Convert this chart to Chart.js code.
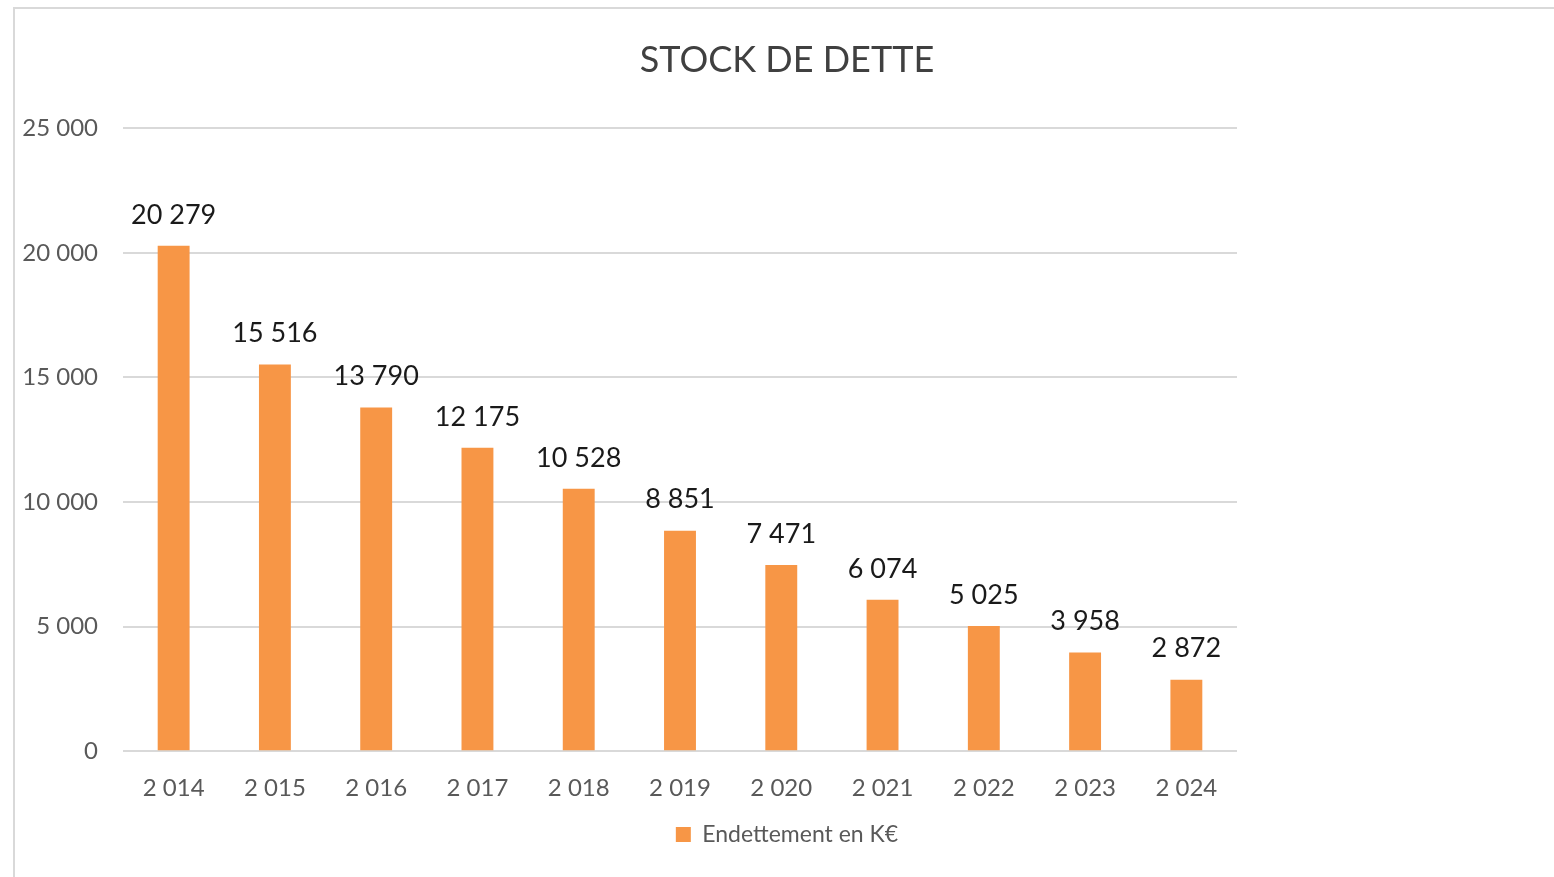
<!DOCTYPE html>
<html lang="fr">
<head>
  <meta charset="UTF-8">
  <title>Stock de dette</title>
  <script src="https://cdn.jsdelivr.net/npm/chart.js"></script>
  <style>
    html, body { margin: 0; padding: 0; background: #fff; overflow: hidden; }
    .frame {
      position: absolute; left: 13px; top: 7px; right: -10px; bottom: -10px;
      border-top: 2px solid #d9d9d9; border-left: 2px solid #d9d9d9;
    }
    .wrap { position: absolute; left: 0; top: 0; width: 1554px; height: 877px; }
  </style>
</head>
<body>
  <div class="frame"></div>
  <div class="wrap"><canvas id="detteChart" width="1554" height="877"></canvas></div>

  <script>
    // Data
    const years = ['2 014', '2 015', '2 016', '2 017', '2 018', '2 019', '2 020', '2 021', '2 022', '2 023', '2 024'];
    const dette = [20279, 15516, 13790, 12175, 10528, 8851, 7471, 6074, 5025, 3958, 2872];
    const seriesName = 'Endettement en K€';

    const fontFamily = 'Lato, "Open Sans", sans-serif';

    // thousands separator with a space, like the source
    const fmt = v => String(v).replace(/\B(?=(\d{3})+(?!\d))/g, ' ');

    // small plugin to draw the values above each bar
    const valueLabels = {
      id: 'valueLabels',
      afterDatasetsDraw(chart) {
        const ctx = chart.ctx;
        const meta = chart.getDatasetMeta(0);
        ctx.save();
        ctx.font = '27px ' + fontFamily;
        ctx.fillStyle = '#1a1a1a';
        ctx.textAlign = 'center';
        ctx.textBaseline = 'middle';
        meta.data.forEach((bar, i) => {
          ctx.fillText(fmt(chart.data.datasets[0].data[i]), bar.x, bar.y - 31);
        });
        ctx.restore();
      }
    };

    const ctx = document.getElementById('detteChart').getContext('2d');
    new Chart(ctx, {
      type: 'bar',
      data: {
        labels: years,
        datasets: [{
          label: seriesName,
          data: dette,
          backgroundColor: '#f79646',
          borderWidth: 0,
          barPercentage: 1,
          categoryPercentage: 0.315
        }]
      },
      options: {
        responsive: false,
        animation: false,
        layout: { padding: { left: 20, right: 0, top: 39, bottom: 21 } },
        plugins: {
          title: {
            display: true,
            text: 'STOCK DE DETTE',
            color: '#404040',
            font: { family: fontFamily, size: 36, weight: 'normal' },
            padding: { top: 0, bottom: 46 }
          },
          legend: {
            position: 'bottom',
            labels: {
              color: '#595959',
              font: { family: fontFamily, size: 23 },
              boxWidth: 15,
              boxHeight: 15,
              padding: 5
            }
          },
          tooltip: { enabled: false }
        },
        scales: {
          x: {
            grid: { display: false },
            border: { display: false },
            ticks: {
              color: '#595959',
              font: { family: fontFamily, size: 24 },
              padding: 15,
              maxRotation: 0
            }
          },
          y: {
            min: 0,
            max: 25000,
            grid: { color: '#d9d9d9', lineWidth: 2, drawTicks: false },
            border: { display: false },
            ticks: {
              stepSize: 5000,
              color: '#595959',
              font: { family: fontFamily, size: 24 },
              padding: 25,
              callback: v => fmt(v)
            },
            afterFit(scale) { scale.width = 103; }
          },
          // empty right axis: keeps the blank space right of the plot
          // while title and legend stay centred on the full width
          pad: {
            type: 'linear',
            position: 'right',
            grid: { display: false },
            border: { display: false },
            ticks: { display: false },
            afterFit(scale) { scale.width = 317; }
          }
        }
      },
      plugins: [valueLabels]
    });
  </script>
</body>
</html>
